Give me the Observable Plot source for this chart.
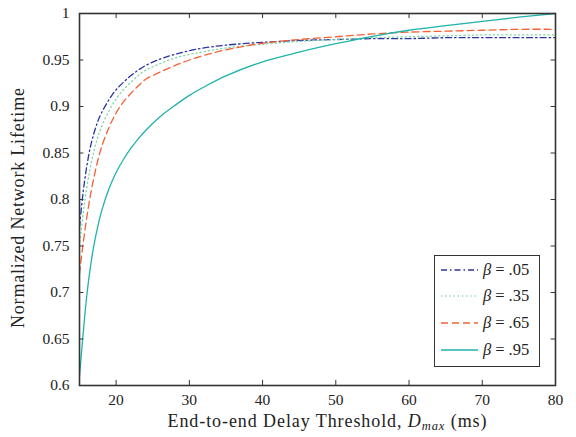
<!DOCTYPE html>
<html><head><meta charset="utf-8">
<script src="https://cdn.jsdelivr.net/npm/d3@7"></script>
<script src="https://cdn.jsdelivr.net/npm/@observablehq/plot@0.6"></script>
<style>
body{margin:0;background:#fff}
#chart{position:relative;width:576px;height:437px;font-family:"Liberation Serif","DejaVu Serif",serif}
#legend{position:absolute;left:434px;top:255px;width:104px;height:110px;border:1.5px solid #333;background:#fff;box-sizing:content-box}
.row{position:absolute;left:0;height:20px;display:flex;align-items:center;font-size:16.5px;color:#222;white-space:nowrap}
.row svg{margin-left:6px;margin-right:5px}
.eq{margin:0 4px}
</style>
</head><body><div id="chart"><div id="legend"></div></div>
<script>
const seriesNames = ["β = .05", "β = .35", "β = .65", "β = .95"];
const seriesColors = ["#2a35a0", "#7fd6a6", "#f26234", "#1fb3ab"];
const seriesDash = ["6,3,1.5,3", "1.2,3", "7,4", null];
const xValues = [15,15.5,16,16.5,17,17.5,18,19,20,21,22,23,24,26,28,30,32,35,40,45,50,55,60,65,70,75,80];
const beta05 = [0.77,0.808,0.836,0.857,0.872,0.884,0.893,0.907,0.918,0.926,0.933,0.939,0.944,0.951,0.956,0.960,0.963,0.966,0.969,0.971,0.972,0.973,0.973,0.974,0.974,0.974,0.974];
const beta35 = [0.75,0.785,0.813,0.835,0.853,0.867,0.878,0.895,0.908,0.918,0.926,0.933,0.939,0.946,0.952,0.956,0.959,0.963,0.967,0.970,0.972,0.974,0.975,0.976,0.977,0.977,0.977];
const beta65 = [0.72,0.753,0.781,0.805,0.825,0.842,0.856,0.877,0.893,0.905,0.914,0.922,0.929,0.937,0.944,0.950,0.955,0.961,0.968,0.972,0.975,0.978,0.980,0.981,0.982,0.983,0.983];
const beta95 = [0.61,0.656,0.697,0.728,0.752,0.771,0.787,0.811,0.829,0.843,0.855,0.865,0.874,0.889,0.901,0.912,0.921,0.933,0.948,0.9585,0.9675,0.9755,0.982,0.987,0.9915,0.996,1.0];
const xTicks = [20,30,40,50,60,70,80];
const yTicks = [0.6,0.65,0.7,0.75,0.8,0.85,0.9,0.95,1];
const yTickLabels = ["0.6","0.65","0.7","0.75","0.8","0.85","0.9","0.95","1"];

const allSeries = [beta05, beta35, beta65, beta95];
const rows = [];
allSeries.forEach((ys, i) => ys.forEach((y, j) => rows.push({x: xValues[j], y, s: i})));

const xDom = [15, 80], yDom = [0.6, 1];
const tx = 0.6, ty = 0.0055;
const font = "Liberation Serif, DejaVu Serif, serif";

const marks = [];
allSeries.forEach((ys, i) => {
  marks.push(Plot.line(rows.filter(d => d.s === i), {
    x: "x", y: "y", curve: "catmull-rom", stroke: seriesColors[i],
    strokeWidth: 1.3, strokeDasharray: seriesDash[i] || undefined
  }));
});
marks.push(
  Plot.ruleX(xTicks, {x: d => d, y1: yDom[0], y2: yDom[0] + ty, stroke: "#333", strokeWidth: 1}),
  Plot.ruleX(xTicks, {x: d => d, y1: yDom[1], y2: yDom[1] - ty, stroke: "#333", strokeWidth: 1}),
  Plot.ruleY(yTicks, {y: d => d, x1: xDom[0], x2: xDom[0] + tx, stroke: "#333", strokeWidth: 1}),
  Plot.ruleY(yTicks, {y: d => d, x1: xDom[1], x2: xDom[1] - tx, stroke: "#333", strokeWidth: 1}),
  Plot.axisX(xTicks, {tickSize: 0, tickPadding: 8, fontSize: 15.5, label: null, fill: "#222"}),
  Plot.axisY(yTicks, {tickSize: 0, tickPadding: 10, fontSize: 15.5, label: null, fill: "#222",
    tickFormat: d => yTickLabels[yTicks.indexOf(d)]}),
  Plot.frame({stroke: "#333", strokeWidth: 1.6})
);

const chart = Plot.plot({
  width: 576, height: 437,
  marginLeft: 79, marginRight: 21, marginTop: 13, marginBottom: 52,
  x: {domain: xDom}, y: {domain: yDom},
  style: {fontFamily: font, background: "#fff"},
  marks
});
const svg = d3.select(chart);
svg.append("text").attr("transform", "translate(24,208) rotate(-90)")
  .attr("text-anchor", "middle").attr("font-size", 18).attr("fill", "#222")
  .attr("textLength", 240).attr("lengthAdjust", "spacing")
  .attr("font-family", font).text("Normalized Network Lifetime");
const xt = svg.append("text").attr("x", 327).attr("y", 427)
  .attr("text-anchor", "middle").attr("font-size", 18).attr("fill", "#222")
  .attr("textLength", 319).attr("lengthAdjust", "spacing")
  .attr("font-family", font);
xt.append("tspan").text("End-to-end Delay Threshold, ");
xt.append("tspan").attr("font-style", "italic").text("D");
xt.append("tspan").attr("font-style", "italic").attr("font-size", 12.5).attr("dy", 3).text("max");
xt.append("tspan").attr("dy", -3).text(" (ms)");
document.getElementById("chart").prepend(chart);

const legend = d3.select("#legend");
seriesNames.forEach((name, i) => {
  const row = legend.append("div").attr("class", "row").style("top", (3.5 + i * 26.7) + "px");
  const s = row.append("svg").attr("width", 37).attr("height", 10);
  s.append("line").attr("x1", 0).attr("x2", 37).attr("y1", 5).attr("y2", 5)
    .attr("stroke", seriesColors[i]).attr("stroke-width", 1.3)
    .attr("stroke-dasharray", seriesDash[i]);
  const parts = name.split(" = ");
  row.append("span").html("<i>" + parts[0] + "</i><span class='eq'>=</span>" + parts[1]);
});
</script>
</body></html>
